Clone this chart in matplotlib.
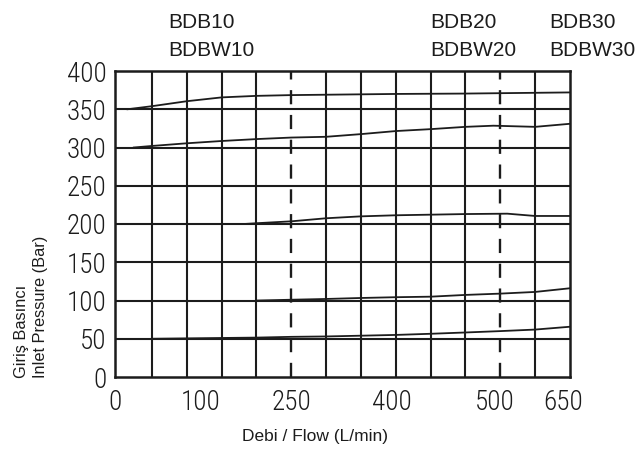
import matplotlib
matplotlib.use("Agg")
import matplotlib.pyplot as plt
from matplotlib import font_manager

# five pressure-setting curves, flow (grid units of 50 L/min) vs inlet pressure (bar)
x1 = [15, 50, 100, 150, 200, 250, 300, 350, 400, 500, 650]
y1 = [350, 354, 360.5, 365.5, 367.5, 368.5, 369, 369.5, 370, 370.5, 372]

x2 = [24, 50, 100, 150, 200, 250, 300, 350, 400, 450, 500, 540, 600, 650]
y2 = [300, 302, 305.5, 308.5, 311, 313, 314, 317.5, 321.5, 324, 327, 328.5, 327, 331]

x3 = [182, 200, 250, 300, 350, 400, 450, 500, 560, 600, 650]
y3 = [200, 201, 203.5, 207.5, 210, 211.4, 212.2, 213, 213.5, 210.5, 210.5]

x4 = [202, 250, 300, 350, 400, 450, 500, 550, 600, 650]
y4 = [100, 101, 102, 103.3, 104.3, 105, 107.3, 109, 111.2, 116]

x5 = [50, 100, 150, 200, 250, 300, 350, 400, 450, 500, 550, 600, 650]
y5 = [50, 50.5, 51, 51.5, 52.5, 53, 54, 55, 56.5, 58.2, 60, 62, 65.7]

curves = [(x1, y1), (x2, y2), (x3, y3), (x4, y4), (x5, y5)]

xtick_pos = [-3, 120, 250, 395, 542, 640]
xtick_labels = ['0', '100', '250', '400', '500', '650']
yticks = [0, 50, 100, 150, 200, 250, 300, 350, 400]
dashed_x = [250, 550]

headers = [('BDB10', 'BDBW10', 168), ('BDB20', 'BDBW20', 430), ('BDB30', 'BDBW30', 549)]

ink = '#1c1c1c'
regular = ['Liberation Sans', 'DejaVu Sans']

# tick numbers in the original are a condensed sans; use one if the box has it
installed = {f.name for f in font_manager.fontManager.ttflist}
narrow = None
for name in ['Liberation Sans Narrow', 'Arial Narrow', 'Roboto Condensed', 'Open Sans Condensed']:
    if name in installed:
        narrow = name
        break
if narrow:
    tick_font, tick_size = [narrow, 'Liberation Sans'], 19.5
else:
    tick_font, tick_size = regular, 17

fig = plt.figure(figsize=(6.38, 4.58), dpi=100)
ax = fig.add_axes([115 / 638, 1 - 377 / 458, 455 / 638, 306 / 458])

ax.set_xlim(0, 650)
ax.set_ylim(0, 400)

# grid every 50 L/min and 50 bar
for gx in range(50, 650, 50):
    if gx in dashed_x:
        ax.axvline(gx, color=ink, lw=1.7, ls=(0, (6, 4.5)), zorder=1)
    else:
        ax.axvline(gx, color=ink, lw=1.5, zorder=1)
for gy in yticks[1:-1]:
    ax.axhline(gy, color=ink, lw=1.5, zorder=1)

for xs, ys in curves:
    ax.plot(xs, ys, color=ink, lw=1.3, zorder=2)

for s in ax.spines.values():
    s.set_linewidth(1.8)
    s.set_color(ink)

ax.set_xticks(xtick_pos)
ax.set_xticklabels(xtick_labels, family=tick_font, fontsize=tick_size, color=ink, weight='light')
ax.set_yticks(yticks)
ax.set_yticklabels([str(v) for v in yticks], family=tick_font, fontsize=tick_size, color=ink,
                   weight='light')
ax.tick_params(axis='both', length=0)
ax.tick_params(axis='x', pad=9)
ax.tick_params(axis='y', pad=6)

fig.text(315 / 638, 1 - 437 / 458, 'Debi / Flow (L/min)', ha='center', va='center',
         family=regular, fontsize=12.5, color=ink)
fig.text(31 / 638, 1 - 378 / 458, 'Giriş Basıncı\nInlet Pressure (Bar)', rotation=90,
         rotation_mode='anchor', ha='left', va='center', multialignment='left',
         linespacing=1.25, family=regular, fontsize=11.8, color=ink)

for top, bottom, px in headers:
    fig.text(px / 638, 1 - 28 / 458, top, ha='left', va='baseline',
             family=regular, fontsize=15, color=ink)
    fig.text(px / 638, 1 - 56 / 458, bottom, ha='left', va='baseline',
             family=regular, fontsize=15, color=ink)

fig.savefig('out.png', dpi=100)
